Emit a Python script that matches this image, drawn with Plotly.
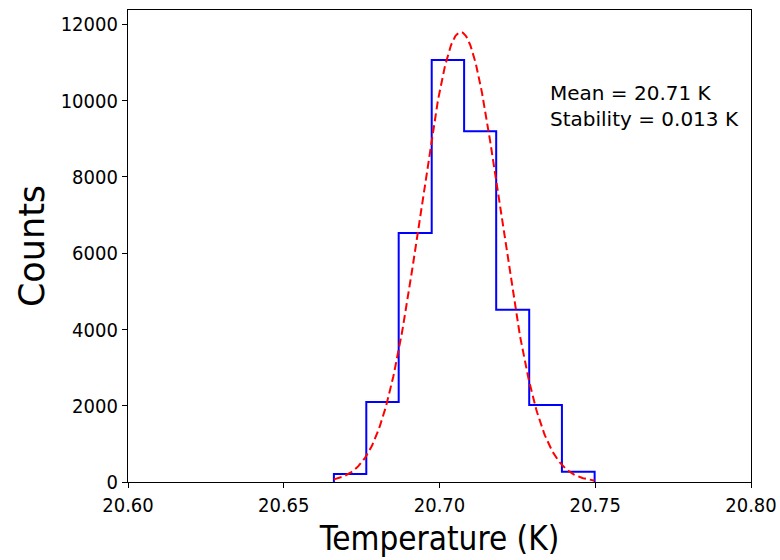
import numpy as np
import plotly.graph_objects as go

# Histogram data
bin_edges = [20.6661, 20.6765, 20.6869, 20.6975, 20.7079, 20.7182, 20.7288, 20.7393, 20.7498]
counts = [210, 2100, 6530, 11070, 9200, 4520, 2020, 270]

# Gaussian fit parameters
fit_mean = 20.7068
fit_sigma = 0.0127
fit_amp = 11800

x_tick_vals = [20.60, 20.65, 20.70, 20.75, 20.80]
x_tick_text = ["20.60", "20.65", "20.70", "20.75", "20.80"]
y_tick_vals = [0, 2000, 4000, 6000, 8000, 10000, 12000]
y_tick_text = ["0", "2000", "4000", "6000", "8000", "10000", "12000"]

annotation_lines = ["Mean = 20.71 K", "Stability = 0.013 K"]

# step outline
step_x = [bin_edges[0]] + bin_edges
step_y = [0] + counts + [0]

fit_x = np.linspace(bin_edges[0], bin_edges[-1], 300)
fit_y = fit_amp * np.exp(-0.5 * ((fit_x - fit_mean) / fit_sigma) ** 2)

fig = go.Figure()
fig.add_trace(go.Scatter(x=step_x, y=step_y, mode="lines", line=dict(color="blue", width=2, shape="hv"),
                         showlegend=False, hoverinfo="skip"))
fig.add_trace(go.Scatter(x=fit_x, y=fit_y, mode="lines", line=dict(color="red", width=2, dash="8px,4px"),
                         showlegend=False))

reg = "DejaVu Sans"
cond = "DejaVu Sans Condensed, DejaVu Sans"
fig.update_layout(
    width=780, height=560,
    margin=dict(l=128, r=29, t=10, b=78),
    plot_bgcolor="white", paper_bgcolor="white",
    font=dict(family=reg, color="black"),
    xaxis=dict(range=[20.60, 20.80], tickvals=x_tick_vals, ticktext=x_tick_text, automargin=False,
               showgrid=False, zeroline=False, showline=True, linecolor="black", linewidth=1.2,
               mirror=True, ticks="outside", ticklen=5, tickcolor="black",
               tickfont=dict(size=20, family=cond),
               title=dict(text="Temperature (K)", font=dict(size=33, family=cond), standoff=10)),
    yaxis=dict(range=[0, 12380], tickvals=y_tick_vals, ticktext=y_tick_text, automargin=False,
               showgrid=False, zeroline=False, showline=True, linecolor="black", linewidth=1.2,
               mirror=True, ticks="outside", ticklen=5, tickcolor="black",
               tickfont=dict(size=20, family=cond),
               title=dict(text="Counts", font=dict(size=35, family=reg), standoff=5)),
    annotations=[dict(x=0.674, y=0.853, xref="paper", yref="paper", xanchor="left", yanchor="top",
                      text="<br>".join(annotation_lines), showarrow=False, align="left",
                      font=dict(size=20, family=reg, color="black"))],
)

fig.write_html("out.html")
